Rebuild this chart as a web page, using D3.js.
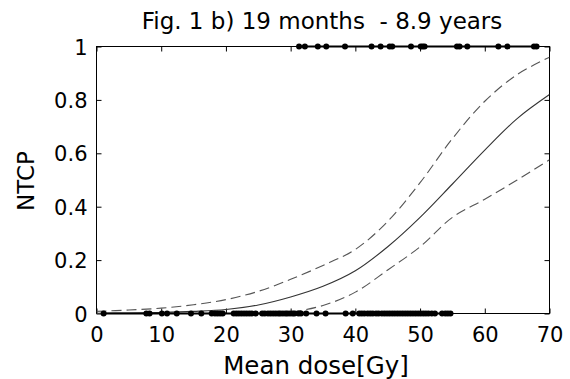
<!DOCTYPE html>
<html>
<head>
<meta charset="utf-8">
<script src="https://cdn.jsdelivr.net/npm/d3@7"></script>
<style>
  body { margin: 0; background: #fff; }
  svg text { font-family: "DejaVu Sans", Verdana, sans-serif; fill: #000; white-space: pre; }
</style>
</head>
<body>
<div id="viz"></div>
<script>
// fitted curve + confidence band
var doses = [0, 5, 10, 15, 20, 25, 30, 35, 40, 45, 50, 55, 60, 65, 70]
var ntcp  = [0.001, 0.002, 0.004, 0.008, 0.015, 0.032, 0.062, 0.102, 0.160, 0.250, 0.360, 0.485, 0.612, 0.730, 0.820]
var upper = [0.008, 0.013, 0.020, 0.033, 0.052, 0.083, 0.128, 0.180, 0.240, 0.345, 0.490, 0.655, 0.795, 0.895, 0.960]
var lower = [0.000, 0.000, 0.000, 0.000, 0.001, 0.002, 0.006, 0.030, 0.080, 0.163, 0.250, 0.360, 0.428, 0.500, 0.576]

// patients with complication (NTCP = 1) and without (NTCP = 0)
var eventDoses = [31.3, 32.2, 34.2, 35.5, 38.4, 42.5, 43.9, 45.3, 45.7, 48.6, 50.1, 50.4, 50.7,
  55.7, 56.1, 57.3, 62.1, 63.5, 67.6, 68.0]
var noEventDoses = [1.1, 7.7, 8.2, 10.1, 10.9, 12.4, 14.6, 16.2, 17.8, 18.3, 18.7, 19.1, 19.5,
  21.2, 21.6, 22.0, 22.4, 22.8, 23.2, 23.6, 24.0, 24.6, 25.6, 26.0, 26.5, 26.9, 27.3, 27.7, 28.1,
  28.4, 28.8, 29.2, 29.5, 29.9, 30.3, 30.6, 31.2, 31.6, 32.4, 34.0, 35.4, 38.5, 39.6, 40.6, 41.0,
  41.4, 41.9, 42.3, 42.7, 43.2, 43.6, 44.1, 44.5, 44.9, 45.3, 45.7, 46.1, 46.5, 46.9, 47.3, 47.7,
  48.1, 48.5, 48.9, 49.3, 49.7, 50.1, 50.5, 50.9, 51.3, 51.8, 52.3, 53.4, 53.9, 54.3, 54.7]

var xTicks = [0, 10, 20, 30, 40, 50, 60, 70]
var yTicks = [0, 0.2, 0.4, 0.6, 0.8, 1]
var title = "Fig. 1 b) 19 months  - 8.9 years"

var W = 570, H = 379
var plotL = 96.5, plotR = 549.5, plotT = 46.5, plotB = 313.5

var svg = d3.select("#viz").append("svg")
  .attr("width", W)
  .attr("height", H)

var xScale = d3.scaleLinear().domain([0, 70]).range([plotL, plotR])
var yScale = d3.scaleLinear().domain([0, 1]).range([plotB, plotT])

// ticks inward, mirrored like gnuplot
var x_axis = d3.axisBottom(xScale).tickValues(xTicks).tickSizeInner(-5).tickSizeOuter(0)
  .tickFormat(d3.format("d"))
var x_top = d3.axisTop(xScale).tickValues(xTicks).tickSizeInner(-5).tickSizeOuter(0).tickFormat("")
var y_axis = d3.axisLeft(yScale).tickValues(yTicks).tickSizeInner(-5).tickSizeOuter(0)
  .tickFormat(function(d) { return d === 0 || d === 1 ? d : d3.format(".1f")(d) })
var y_right = d3.axisRight(yScale).tickValues(yTicks).tickSizeInner(-5).tickSizeOuter(0).tickFormat("")

function styleAxis(g) {
  g.select(".domain").remove()
  g.selectAll(".tick line").attr("stroke", "#000")
  g.selectAll(".tick text").style("font-size", "21px").attr("fill", "#000")
}

svg.append("g").attr("transform", "translate(0," + plotB + ")").call(x_axis).call(styleAxis)
  .selectAll(".tick text").attr("y", 14).attr("dy", "0.71em")
svg.append("g").attr("transform", "translate(0," + plotT + ")").call(x_top).call(styleAxis)
svg.append("g").attr("transform", "translate(" + plotL + ",0)").call(y_axis).call(styleAxis)
  .selectAll(".tick text").attr("x", -9).attr("dy", "0.36em")
svg.append("g").attr("transform", "translate(" + plotR + ",0)").call(y_right).call(styleAxis)

// frame
svg.append("rect")
  .attr("x", plotL).attr("y", plotT)
  .attr("width", plotR - plotL).attr("height", plotB - plotT)
  .attr("fill", "none").attr("stroke", "#000").attr("stroke-width", 1)

svg.append("clipPath").attr("id", "clip")
  .append("rect").attr("x", plotL).attr("y", plotT - 1)
  .attr("width", plotR - plotL).attr("height", plotB - plotT + 2)

// curves
var line = d3.line()
  .x(function(d) { return xScale(d[0]) })
  .y(function(d) { return yScale(d[1]) })
  .curve(d3.curveCatmullRom)

var curves = svg.append("g").attr("clip-path", "url(#clip)")

curves.append("path")
  .datum(d3.zip(doses, upper))
  .attr("d", line)
  .attr("fill", "none").attr("stroke", "#555").attr("stroke-width", 1.1)
  .attr("stroke-dasharray", "10,5")

curves.append("path")
  .datum(d3.zip(doses, lower))
  .attr("d", line)
  .attr("fill", "none").attr("stroke", "#555").attr("stroke-width", 1.1)
  .attr("stroke-dasharray", "10,5")

curves.append("path")
  .datum(d3.zip(doses, ntcp))
  .attr("d", line)
  .attr("fill", "none").attr("stroke", "#333").attr("stroke-width", 1.1)

// observed outcomes, points joined by a line
function outcomes(arr, val) {
  var pts = arr.map(function(d) { return [d, val] })
  var g = svg.append("g")
  g.append("path")
    .datum(pts)
    .attr("d", d3.line().x(function(d) { return xScale(d[0]) }).y(function(d) { return yScale(d[1]) }))
    .attr("fill", "none").attr("stroke", "#000").attr("stroke-width", 2)
  g.selectAll("circle")
    .data(pts)
    .enter()
    .append("circle")
      .attr("cx", function(d) { return xScale(d[0]) })
      .attr("cy", function(d) { return yScale(d[1]) })
      .attr("r", 3)
      .attr("fill", "#000")
}
outcomes(noEventDoses, 0)
outcomes(eventDoses, 1)

// labels
svg.append("text")
  .attr("x", 322).attr("y", 29)
  .attr("text-anchor", "middle")
  .style("font-size", "23px")
  .text(title)

svg.append("text")
  .attr("x", 316).attr("y", 374)
  .attr("text-anchor", "middle")
  .style("font-size", "24.5px")
  .text("Mean dose[Gy]")

svg.append("text")
  .attr("transform", "translate(34," + 181 + ") rotate(-90)")
  .attr("text-anchor", "middle")
  .style("font-size", "23px")
  .text("NTCP")
</script>
</body>
</html>
